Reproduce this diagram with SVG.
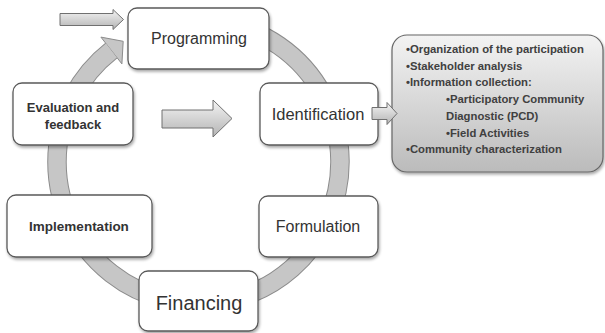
<svg xmlns="http://www.w3.org/2000/svg" width="605" height="333" viewBox="0 0 605 333">
<defs>
<linearGradient id="arrowGrad" x1="0" y1="0" x2="0" y2="1">
<stop offset="0" stop-color="#f4f4f4"/>
<stop offset="1" stop-color="#b4b4b4"/>
</linearGradient>
<linearGradient id="noteGrad" x1="0" y1="0" x2="0" y2="1">
<stop offset="0" stop-color="#f3f3f3"/>
<stop offset="1" stop-color="#bbbbbb"/>
</linearGradient>
<filter id="shadow" x="-10%" y="-10%" width="130%" height="130%">
<feGaussianBlur in="SourceAlpha" stdDeviation="1.5"/>
<feOffset dx="1" dy="2" result="b"/>
<feComponentTransfer><feFuncA type="linear" slope="0.35"/></feComponentTransfer>
<feMerge><feMergeNode/><feMergeNode in="SourceGraphic"/></feMerge>
</filter>
</defs>
<style>
.box{fill:#ffffff;stroke:#5a5a5a;stroke-width:1.3;filter:url(#shadow)}
.lbl{font-family:"Liberation Sans",Arial,sans-serif;fill:#333333;text-anchor:middle}
.blbl{font-family:"Liberation Sans",Arial,sans-serif;fill:#333333;text-anchor:middle;font-weight:bold}
.arr{fill:url(#arrowGrad);stroke:#707070;stroke-width:1}
.note{font-family:"Liberation Sans",Arial,sans-serif;fill:#404040;font-size:11.3px;font-weight:bold}
</style>

<g id="connectors">
<path d="M 223.1 22.7 A 141.5 141.5 0 1 1 111.4 50.5" fill="none" stroke="#8c8c8c" stroke-width="19.5"/>
<polygon points="100.9,37.1 123.2,41.3 121.9,63.9" fill="#c6c6c6" stroke="#8c8c8c" stroke-width="1"/>
<path d="M 223.1 22.7 A 141.5 141.5 0 1 1 111.4 50.5" fill="none" stroke="#c6c6c6" stroke-width="17.5"/>
<polygon class="arr" points="60,13.5 113,13.5 113,9.5 123.5,19.5 113,29.5 113,25.5 60,25.5"/>
<polygon class="arr" points="162,110 213,110 213,100 232,118.5 213,137 213,128 162,128"/>
</g>

<g id="programming">
<rect class="box" x="128" y="8" width="141" height="61" rx="9"/>
<text class="lbl" x="199" y="44" font-size="16">Programming</text>
</g>

<g id="evaluation">
<rect class="box" x="13" y="83" width="120" height="62" rx="9"/>
<text class="blbl" x="73" y="112" font-size="13">Evaluation and</text>
<text class="blbl" x="73" y="129" font-size="13">feedback</text>
</g>

<g id="identification">
<rect class="box" x="260" y="83" width="118" height="62" rx="9"/>
<text class="lbl" x="318" y="120" font-size="16.5">Identification</text>
</g>

<g id="implementation">
<rect class="box" x="7" y="195" width="145" height="62" rx="9"/>
<text class="blbl" x="79" y="231" font-size="13.5">Implementation</text>
</g>

<g id="formulation">
<rect class="box" x="259" y="196" width="119" height="61" rx="9"/>
<text class="lbl" x="318" y="232" font-size="16">Formulation</text>
</g>

<g id="financing">
<rect class="box" x="139" y="271" width="119" height="60" rx="9"/>
<text class="lbl" x="199" y="310" font-size="20">Financing</text>
</g>

<g id="identification-details">
<rect x="392" y="35" width="211" height="137" rx="15" fill="url(#noteGrad)" stroke="#666666" stroke-width="1.2" filter="url(#shadow)"/>
<text class="note" x="406" y="53">•Organization of the participation</text>
<text class="note" x="406" y="70">•Stakeholder  analysis</text>
<text class="note" x="406" y="86">•Information collection:</text>
<text class="note" x="446" y="103">•Participatory Community</text>
<text class="note" x="446" y="120">Diagnostic (PCD)</text>
<text class="note" x="446" y="137">•Field Activities</text>
<text class="note" x="406" y="153">•Community characterization</text>
</g>

<g id="detail-arrow">
<polygon class="arr" points="372,107.5 387,107.5 387,102.5 397,113.5 387,124.5 387,119.5 372,119.5"/>
</g>
</svg>
